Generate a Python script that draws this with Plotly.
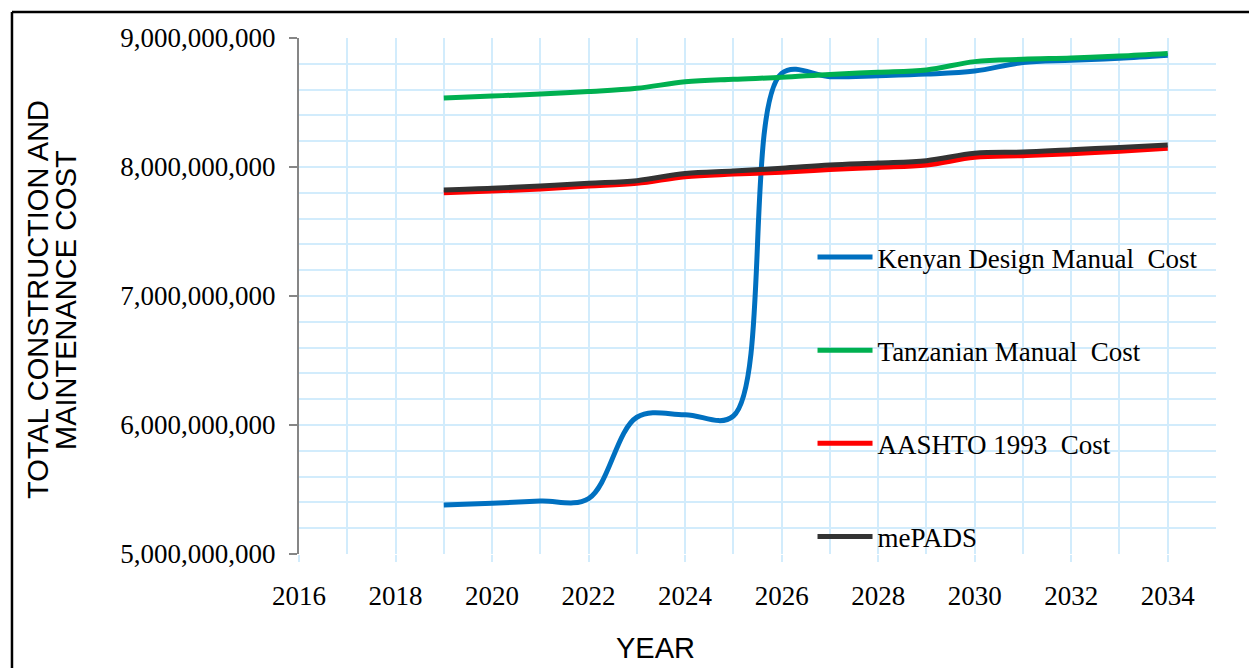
import plotly.graph_objects as go

# Years of the analysis period
years = list(range(2019, 2035))

# Total construction and maintenance cost per design method
kenyan_cost = [5.380e9, 5.393e9, 5.410e9, 5.430e9, 6.060e9, 6.080e9, 6.070e9, 8.726e9,
               8.700e9, 8.708e9, 8.720e9, 8.744e9, 8.810e9, 8.827e9, 8.843e9, 8.866e9]
tanzanian_cost = [8.535e9, 8.550e9, 8.566e9, 8.585e9, 8.610e9, 8.660e9, 8.680e9, 8.695e9,
                  8.718e9, 8.734e9, 8.752e9, 8.817e9, 8.835e9, 8.845e9, 8.860e9, 8.880e9]
aashto_cost = [7.800e9, 7.813e9, 7.830e9, 7.852e9, 7.873e9, 7.925e9, 7.945e9, 7.960e9,
               7.980e9, 7.997e9, 8.015e9, 8.075e9, 8.088e9, 8.103e9, 8.122e9, 8.145e9]
mepads_cost = [7.822e9, 7.835e9, 7.853e9, 7.874e9, 7.894e9, 7.950e9, 7.969e9, 7.990e9,
               8.015e9, 8.031e9, 8.049e9, 8.106e9, 8.116e9, 8.134e9, 8.152e9, 8.170e9]

series = [
    ("Kenyan Design Manual \u00a0Cost", kenyan_cost, "#0070C0"),
    ("Tanzanian\u00a0Manual \u00a0Cost", tanzanian_cost, "#00B050"),
    ("AASHTO 1993 \u00a0Cost", aashto_cost, "#FF0000"),
    ("mePADS", mepads_cost, "#333333"),
]

SERIF = "Liberation Serif, Times New Roman, serif"
SANS = "Liberation Sans, Arial, sans-serif"
GRID = "#D2ECFC"

fig = go.Figure()
for i, (name, vals, color) in enumerate(series):
    fig.add_trace(go.Scatter(
        x=years, y=vals, name=name, mode="lines",
        line=dict(color=color, width=5, shape="spline", smoothing=1.0),
        legendgroup=f"g{i}",
    ))

fig.update_layout(
    width=1249, height=668,
    margin=dict(l=299, r=33, t=38, b=114),
    paper_bgcolor="white", plot_bgcolor="white",
    font=dict(family=SERIF, size=26, color="black"),
    legend=dict(
        x=0.56, y=0.622, xanchor="left", yanchor="top",
        bgcolor="rgba(0,0,0,0)", traceorder="grouped", tracegroupgap=55,
        itemwidth=55,
        font=dict(family=SERIF, size=27, color="black"),
    ),
    xaxis=dict(
        range=[2016, 2035], tickmode="linear", tick0=2016, dtick=2,
        showgrid=True, gridcolor=GRID, gridwidth=2,
        minor=dict(dtick=1, showgrid=True, gridcolor=GRID, gridwidth=2),
        ticks="outside", ticklen=7, tickcolor=GRID, tickwidth=2,
        ticklabelstandoff=11,
        showline=False, zeroline=False,
        tickfont=dict(family=SERIF, size=27),
    ),
    yaxis=dict(
        range=[5e9, 9e9], tickmode="linear", tick0=5e9, dtick=1e9,
        tickformat=",d",
        showgrid=True, gridcolor=GRID, gridwidth=2,
        minor=dict(dtick=2e8, showgrid=True, gridcolor=GRID, gridwidth=2),
        ticks="outside", ticklen=8, tickcolor="#868686", tickwidth=2,
        ticklabelstandoff=8,
        showline=True, linecolor="#868686", linewidth=2,
        zeroline=False,
        tickfont=dict(family=SERIF, size=27),
    ),
    annotations=[
        # axis titles
        dict(text="YEAR", xref="paper", yref="paper", x=(655 - 299) / 917,
             y=(554 - 648) / 516, xanchor="center", yanchor="middle",
             showarrow=False, font=dict(family=SANS, size=29)),
        dict(text="TOTAL CONSTRUCTION AND", xref="paper", yref="paper",
             x=(38 - 299) / 917, y=(554 - 300) / 516, textangle=-90,
             xanchor="center", yanchor="middle", showarrow=False,
             font=dict(family=SANS, size=29)),
        dict(text="MAINTENANCE COST", xref="paper", yref="paper",
             x=(66 - 299) / 917, y=(554 - 300) / 516, textangle=-90,
             xanchor="center", yanchor="middle", showarrow=False,
             font=dict(family=SANS, size=29)),
    ],
    shapes=[
        # frame around the chart (top and left edges)
        dict(type="line", xref="paper", yref="paper",
             x0=-0.313, x1=1.1, y0=1.0504, y1=1.0504,
             line=dict(color="black", width=2.5)),
        dict(type="line", xref="paper", yref="paper",
             x0=-0.313, x1=-0.313, y0=1.0504, y1=-0.3,
             line=dict(color="black", width=2.5)),
    ],
)

fig.write_html("out.html")
